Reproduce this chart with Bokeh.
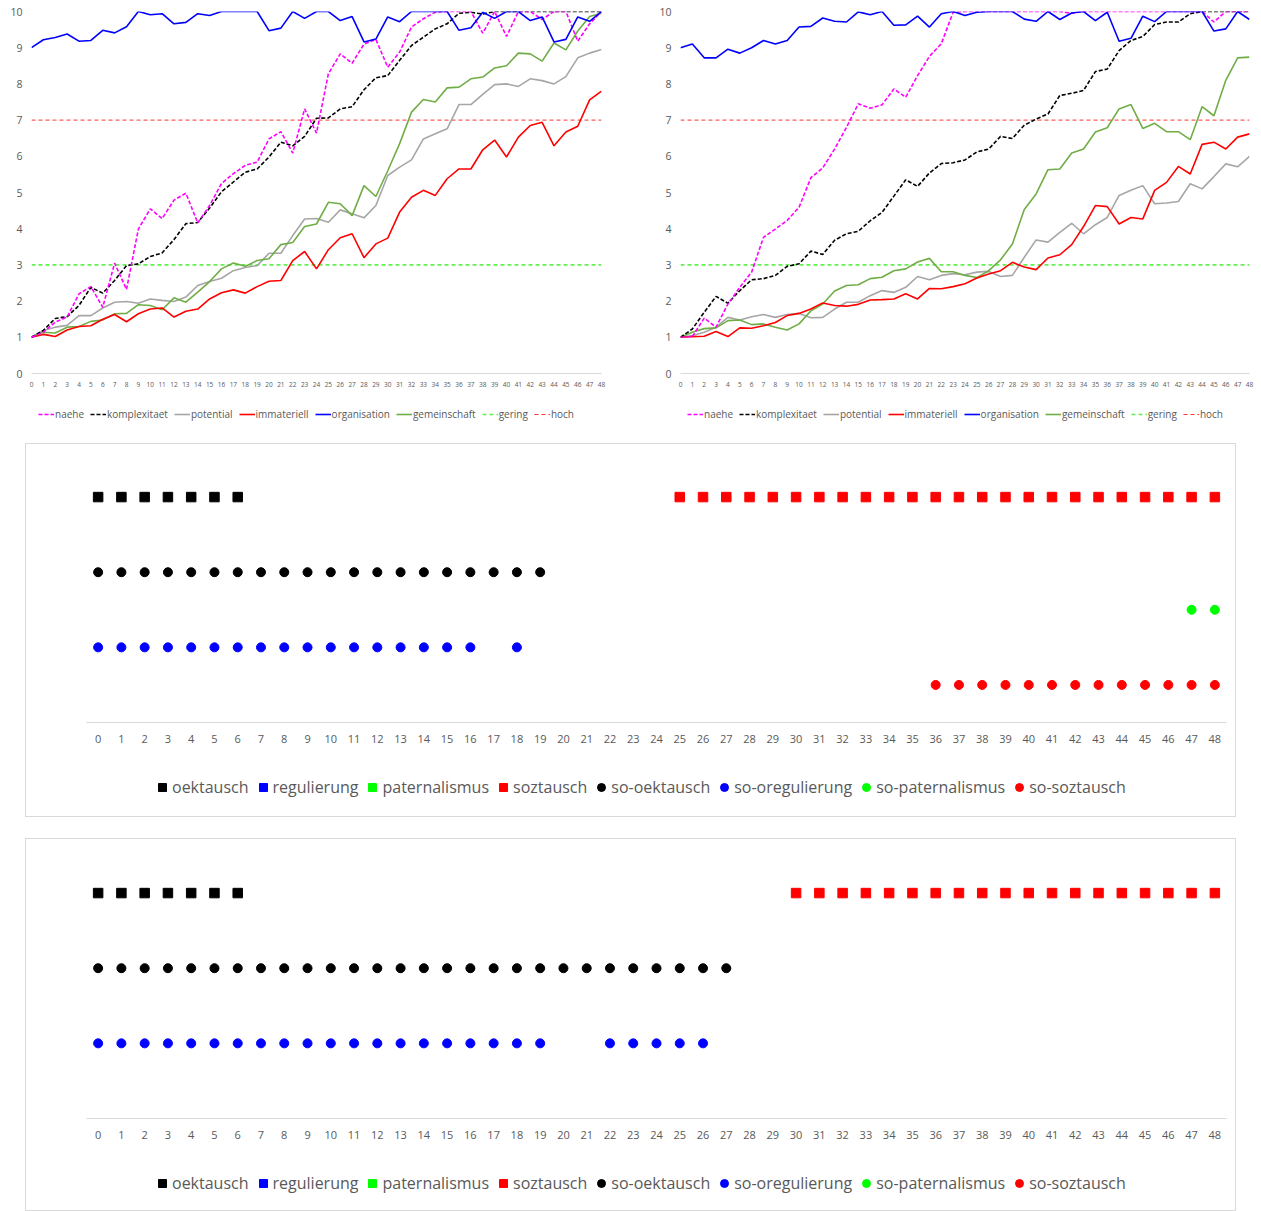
from bokeh.plotting import figure
from bokeh.layouts import column, row
from bokeh.models import Range1d, Legend, LegendItem, FixedTicker
from bokeh.embed import file_html
from bokeh.resources import INLINE

# ---------------- data: line charts ----------------
steps = list(range(49))
tick_labels = [str(s) for s in steps]

c1_naehe = [1.0, 1.14, 1.42, 1.56, 2.2, 2.4, 1.83, 3.05, 2.32, 3.99,
            4.55, 4.28, 4.79, 4.98, 4.16, 4.64, 5.25, 5.52, 5.75, 5.84,
            6.48, 6.68, 6.09, 7.31, 6.64, 8.28, 8.83, 8.57, 9.1, 9.23,
            8.46, 8.88, 9.57, 9.8, 9.98, 10, 10, 10, 9.4, 10,
            9.31, 10, 10, 9.78, 10, 10, 9.18, 9.66, 10]
c1_komplexitaet = [1.0, 1.19, 1.52, 1.57, 1.88, 2.38, 2.22, 2.57, 2.98, 3.03,
                   3.23, 3.33, 3.7, 4.14, 4.17, 4.57, 5.02, 5.29, 5.56, 5.65,
                   5.98, 6.39, 6.29, 6.55, 7.05, 7.06, 7.31, 7.37, 7.84, 8.17,
                   8.23, 8.65, 9.06, 9.29, 9.52, 9.66, 9.95, 9.98, 9.93, 10,
                   10, 10, 10, 10, 10, 10, 10, 10, 10]
c1_potential = [1.0, 1.19, 1.28, 1.33, 1.6, 1.6, 1.81, 1.97, 1.99, 1.94,
                2.06, 2.02, 1.99, 2.11, 2.43, 2.54, 2.63, 2.84, 2.93, 2.98,
                3.32, 3.32, 3.81, 4.27, 4.28, 4.18, 4.52, 4.41, 4.3, 4.64,
                5.47, 5.7, 5.9, 6.48, 6.62, 6.76, 7.43, 7.43, 7.71, 7.98,
                8.0, 7.93, 8.14, 8.09, 8.0, 8.2, 8.72, 8.85, 8.95]
c1_immateriell = [1.0, 1.08, 1.02, 1.2, 1.3, 1.32, 1.5, 1.63, 1.43, 1.65,
                  1.78, 1.81, 1.56, 1.72, 1.78, 2.06, 2.23, 2.31, 2.22, 2.4,
                  2.55, 2.57, 3.12, 3.37, 2.89, 3.42, 3.75, 3.86, 3.2, 3.58,
                  3.74, 4.46, 4.87, 5.06, 4.92, 5.38, 5.65, 5.65, 6.18, 6.45,
                  5.98, 6.53, 6.85, 6.94, 6.29, 6.67, 6.83, 7.56, 7.8]
c1_organisation = [9.0, 9.22, 9.28, 9.38, 9.18, 9.2, 9.48, 9.41, 9.58, 10,
                   9.91, 9.94, 9.66, 9.7, 9.94, 9.89, 10, 10, 10, 10,
                   9.47, 9.54, 10, 9.81, 10, 10, 9.75, 9.86, 9.16, 9.24,
                   9.85, 9.72, 10, 10, 10, 10, 9.48, 9.55, 9.98, 9.81,
                   10, 10, 9.75, 9.85, 9.16, 9.23, 9.85, 9.73, 10]
c1_gemeinschaft = [1.0, 1.14, 1.12, 1.28, 1.3, 1.44, 1.48, 1.65, 1.66, 1.9,
                   1.88, 1.76, 2.09, 1.97, 2.25, 2.54, 2.89, 3.05, 2.96, 3.12,
                   3.17, 3.56, 3.62, 4.06, 4.13, 4.73, 4.69, 4.36, 5.19, 4.89,
                   5.6, 6.35, 7.22, 7.57, 7.5, 7.89, 7.91, 8.14, 8.19, 8.44,
                   8.5, 8.85, 8.83, 8.63, 9.13, 8.94, 9.46, 9.86, 9.95]

c2_naehe = [1.0, 1.02, 1.53, 1.28, 1.92, 2.38, 2.8, 3.76, 3.99, 4.23,
            4.59, 5.41, 5.68, 6.2, 6.8, 7.45, 7.33, 7.42, 7.86, 7.63,
            8.23, 8.76, 9.11, 9.98, 10, 10, 10, 10, 10, 10,
            10, 10, 10, 9.95, 10, 10, 10, 10, 10, 10,
            10, 10, 10, 10, 10, 9.71, 10, 10, 10]
c2_komplexitaet = [1.0, 1.23, 1.69, 2.13, 1.94, 2.29, 2.59, 2.62, 2.71, 2.96,
                   3.03, 3.38, 3.29, 3.68, 3.86, 3.93, 4.22, 4.45, 4.9, 5.35,
                   5.17, 5.54, 5.8, 5.82, 5.9, 6.12, 6.2, 6.55, 6.49, 6.86,
                   7.03, 7.17, 7.68, 7.74, 7.82, 8.34, 8.41, 8.92, 9.2, 9.31,
                   9.64, 9.71, 9.71, 9.94, 10, 10, 10, 10, 10]
c2_potential = [1.0, 1.05, 1.14, 1.28, 1.55, 1.48, 1.57, 1.63, 1.55, 1.63,
                1.66, 1.54, 1.55, 1.78, 1.97, 1.97, 2.15, 2.29, 2.24, 2.38,
                2.68, 2.59, 2.71, 2.76, 2.73, 2.8, 2.82, 2.68, 2.71, 3.21,
                3.69, 3.63, 3.9, 4.15, 3.86, 4.11, 4.31, 4.92, 5.06, 5.19,
                4.69, 4.71, 4.75, 5.24, 5.1, 5.44, 5.79, 5.71, 6.0]
c2_immateriell = [1.0, 1.02, 1.03, 1.16, 1.02, 1.26, 1.25, 1.32, 1.41, 1.6,
                  1.66, 1.78, 1.95, 1.88, 1.86, 1.91, 2.03, 2.04, 2.06, 2.2,
                  2.06, 2.35, 2.34, 2.4, 2.48, 2.64, 2.75, 2.84, 3.07, 2.94,
                  2.87, 3.19, 3.28, 3.56, 4.06, 4.64, 4.61, 4.13, 4.31, 4.27,
                  5.06, 5.28, 5.72, 5.51, 6.33, 6.39, 6.2, 6.53, 6.62]
c2_organisation = [9.0, 9.1, 8.72, 8.72, 8.96, 8.85, 9.0, 9.2, 9.1, 9.2,
                   9.57, 9.59, 9.82, 9.73, 9.71, 9.99, 9.91, 10, 9.62, 9.63,
                   9.87, 9.57, 9.94, 10, 9.89, 9.98, 10, 10, 10, 9.79,
                   9.73, 10, 9.78, 9.96, 10, 9.75, 9.98, 9.18, 9.26, 9.87,
                   9.72, 10, 10, 10, 10, 9.46, 9.52, 10, 9.78]
c2_gemeinschaft = [1.0, 1.14, 1.24, 1.26, 1.46, 1.48, 1.35, 1.37, 1.28, 1.2,
                   1.37, 1.73, 1.92, 2.28, 2.43, 2.45, 2.62, 2.66, 2.84, 2.89,
                   3.08, 3.18, 2.81, 2.81, 2.71, 2.65, 2.84, 3.14, 3.58, 4.53,
                   4.96, 5.63, 5.65, 6.09, 6.2, 6.67, 6.79, 7.31, 7.43, 6.77,
                   6.91, 6.68, 6.68, 6.46, 7.37, 7.12, 8.1, 8.72, 8.74]

gering_level = 3
hoch_level = 7
y_ticks = [0, 1, 2, 3, 4, 5, 6, 7, 8, 9, 10]

# ---------------- data: dot charts ----------------
level_square = 6
level_so_oektausch = 4
level_so_paternalismus = 3
level_so_oregulierung = 2
level_so_soztausch = 1

d1_oektausch = [0, 1, 2, 3, 4, 5, 6]
d1_regulierung = []
d1_paternalismus = []
d1_soztausch = [25, 26, 27, 28, 29, 30, 31, 32, 33, 34, 35, 36, 37, 38, 39, 40,
                41, 42, 43, 44, 45, 46, 47, 48]
d1_so_oektausch = [0, 1, 2, 3, 4, 5, 6, 7, 8, 9, 10, 11, 12, 13, 14, 15, 16, 17, 18, 19]
d1_so_oregulierung = [0, 1, 2, 3, 4, 5, 6, 7, 8, 9, 10, 11, 12, 13, 14, 15, 16, 18]
d1_so_paternalismus = [47, 48]
d1_so_soztausch = [36, 37, 38, 39, 40, 41, 42, 43, 44, 45, 46, 47, 48]

d2_oektausch = [0, 1, 2, 3, 4, 5, 6]
d2_regulierung = []
d2_paternalismus = []
d2_soztausch = [30, 31, 32, 33, 34, 35, 36, 37, 38, 39, 40, 41, 42, 43, 44, 45,
                46, 47, 48]
d2_so_oektausch = [0, 1, 2, 3, 4, 5, 6, 7, 8, 9, 10, 11, 12, 13, 14, 15, 16, 17,
                   18, 19, 20, 21, 22, 23, 24, 25, 26, 27]
d2_so_oregulierung = [0, 1, 2, 3, 4, 5, 6, 7, 8, 9, 10, 11, 12, 13, 14, 15, 16,
                      17, 18, 19, 22, 23, 24, 25, 26]
d2_so_paternalismus = []
d2_so_soztausch = []

FONT = "Open Sans"
GRAY_TXT = "#595959"
AXIS_LINE = "#d9d9d9"
BORDER = "1px solid #d9d9d9"

LINE_SERIES = [("naehe", "#ff00ff", 1.6, "4 2"),
               ("komplexitaet", "#000000", 1.6, "4 2"),
               ("potential", "#a6a6a6", 1.6, "solid"),
               ("immateriell", "#ff0000", 1.6, "solid"),
               ("organisation", "#0000ff", 1.6, "solid"),
               ("gemeinschaft", "#70ad47", 1.6, "solid"),
               ("gering", "#66ee55", 1.6, "4 3"),
               ("hoch", "#ff3333", 1.0, "4 3")]

DOT_SERIES = [("oektausch", "square", "#000000"),
              ("regulierung", "square", "#0000ff"),
              ("paternalismus", "square", "#00ff00"),
              ("soztausch", "square", "#ff0000"),
              ("so-oektausch", "circle", "#000000"),
              ("so-oregulierung", "circle", "#0000ff"),
              ("so-paternalismus", "circle", "#00ff00"),
              ("so-soztausch", "circle", "#ff0000")]
DOT_LEVELS = [level_square, level_square, level_square, level_square,
              level_so_oektausch, level_so_oregulierung, level_so_paternalismus,
              level_so_soztausch]


def style_xaxis(p, size, standoff):
    p.xaxis.ticker = FixedTicker(ticks=steps)
    p.xaxis.major_label_overrides = {s: t for s, t in zip(steps, tick_labels)}
    p.xaxis.axis_line_color = AXIS_LINE
    p.xaxis.major_tick_line_color = None
    p.xaxis.minor_tick_line_color = None
    p.xaxis.major_tick_out = 0
    p.xaxis.major_tick_in = 0
    p.xaxis.minor_tick_out = 0
    p.xaxis.major_label_text_font = FONT
    p.xaxis.major_label_text_font_size = size
    p.xaxis.major_label_text_color = GRAY_TXT
    p.xaxis.major_label_standoff = standoff


def legend_figure(width, height, kind, series, loc, font_size, glyph_w, glyph_h,
                  standoff, spacing, styles=None, margin=None):
    # legend strip below a chart; its proxy renderers use the chart's own data but
    # lie outside this strip's ranges, so only the legend is visible
    lp = figure(width=width, height=height, x_range=Range1d(1000, 1001), y_range=Range1d(1000, 1001),
                x_axis_type=None, y_axis_type=None,
                output_backend="svg", toolbar_location=None,
                min_border_left=0, min_border_right=0, min_border_top=0, min_border_bottom=0,
                styles=styles if styles else {}, margin=margin)
    lp.outline_line_color = None
    lp.grid.visible = False
    items = []
    if kind == "line":
        for (name, col, lw, dash), ys in zip(LINE_SERIES, series):
            r = lp.line(x=steps, y=ys, line_color=col, line_width=lw, line_dash=dash)
            items.append(LegendItem(label=name, renderers=[r]))
    else:
        for (name, marker, col), lvl in zip(DOT_SERIES, series):
            r = lp.scatter(x=steps, y=[lvl] * len(steps), marker=marker, size=9,
                           fill_color=col, line_color=col)
            items.append(LegendItem(label=name, renderers=[r]))
    leg = Legend(items=items, orientation="horizontal", location=loc,
                 glyph_width=glyph_w, glyph_height=glyph_h, label_standoff=standoff,
                 spacing=spacing, padding=0, margin=0, border_line_color=None,
                 background_fill_alpha=0,
                 label_text_font=FONT, label_text_font_size=font_size,
                 label_text_color=GRAY_TXT)
    lp.add_layout(leg)
    return lp


def line_chart(series, width, mleft, mright):
    p = figure(width=width, height=395, x_range=Range1d(0, 48), y_range=Range1d(0, 10),
               output_backend="svg", toolbar_location=None,
               min_border_left=mleft, min_border_right=mright,
               min_border_top=11, min_border_bottom=22)
    p.outline_line_color = None
    p.grid.visible = False

    style_xaxis(p, "6.5px", 8)

    p.yaxis.ticker = FixedTicker(ticks=y_ticks)
    p.yaxis.axis_line_color = None
    p.yaxis.major_tick_line_color = None
    p.yaxis.minor_tick_line_color = None
    p.yaxis.major_tick_out = 0
    p.yaxis.major_tick_in = 0
    p.yaxis.minor_tick_out = 0
    p.yaxis.major_label_text_font = FONT
    p.yaxis.major_label_text_font_size = "10.5px"
    p.yaxis.major_label_text_color = GRAY_TXT
    p.yaxis.major_label_standoff = 9

    named = {name: (col, lw, dash, ys) for (name, col, lw, dash), ys in zip(LINE_SERIES, series)}
    for name in ["gering", "hoch", "potential", "gemeinschaft", "immateriell",
                 "komplexitaet", "naehe", "organisation"]:
        col, lw, dash, ys = named[name]
        p.line(steps, ys, line_color=col, line_width=lw, line_dash=dash)
    return p


def dot_chart(data, height, mtop, mbottom, margin):
    p = figure(width=1211, height=height, x_range=Range1d(-0.5, 48.5), y_range=Range1d(0, 7),
               output_backend="svg", toolbar_location=None,
               min_border_left=60, min_border_right=11,
               min_border_top=mtop, min_border_bottom=mbottom,
               margin=margin,
               styles={"border-top": BORDER, "border-left": BORDER, "border-right": BORDER})
    p.outline_line_color = None
    p.grid.visible = False
    p.yaxis.visible = False
    style_xaxis(p, "11px", 12)

    for (name, marker, col), xs, lvl in zip(DOT_SERIES, data, DOT_LEVELS):
        p.scatter(x=xs, y=[lvl] * len(xs), marker=marker,
                  size=9.5 if marker == "square" else 9,
                  fill_color=col, line_color=col)
    return p


c1_all = [c1_naehe, c1_komplexitaet, c1_potential, c1_immateriell, c1_organisation,
          c1_gemeinschaft, [gering_level] * len(steps), [hoch_level] * len(steps)]
c2_all = [c2_naehe, c2_komplexitaet, c2_potential, c2_immateriell, c2_organisation,
          c2_gemeinschaft, [gering_level] * len(steps), [hoch_level] * len(steps)]

p1 = line_chart(c1_all, 650, 31, 49)
l1 = legend_figure(650, 48, "line", c1_all, (7, 22), "10px", 16, 12, 1, 6)
p2 = line_chart(c2_all, 611, 30, 12)
l2 = legend_figure(611, 48, "line", c2_all, (7, 22), "10px", 16, 12, 1, 6)

LEG_STYLE = {"border-bottom": BORDER, "border-left": BORDER, "border-right": BORDER}
p3 = dot_chart([d1_oektausch, d1_regulierung, d1_paternalismus, d1_soztausch,
                d1_so_oektausch, d1_so_oregulierung, d1_so_paternalismus, d1_so_soztausch],
               310, 15, 32, (0, 0, 0, 25))
l3 = legend_figure(1211, 64, "dot", DOT_LEVELS, (66, 19), "16px", 20, 20, 0, 4,
                   styles=LEG_STYLE, margin=(0, 0, 0, 25))
p4 = dot_chart([d2_oektausch, d2_regulierung, d2_paternalismus, d2_soztausch,
                d2_so_oektausch, d2_so_oregulierung, d2_so_paternalismus, d2_so_soztausch],
               310, 16, 31, (21, 0, 0, 25))
l4 = legend_figure(1211, 63, "dot", DOT_LEVELS, (66, 17), "16px", 20, 20, 0, 4,
                   styles=LEG_STYLE, margin=(0, 0, 0, 25))

layout = column(row(column(p1, l1), column(p2, l2)), p3, l3, p4, l4)
open("out.html", "w").write(file_html(layout, INLINE))
